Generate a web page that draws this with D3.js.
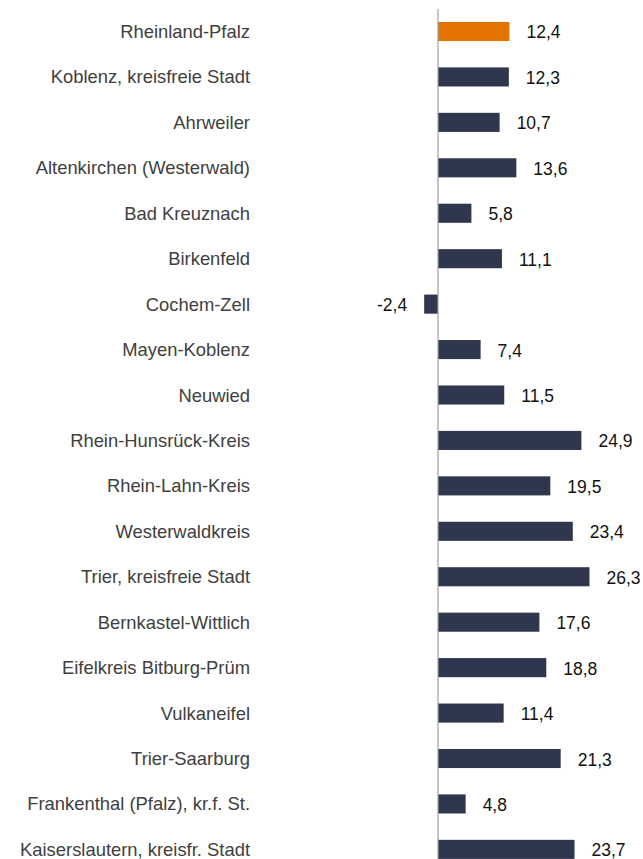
<!DOCTYPE html>
<html>
<head>
<meta charset="utf-8">
<script src="https://cdn.jsdelivr.net/npm/d3@7"></script>
<style>
  html, body { margin: 0; padding: 0; background: #fff; }
  svg { display: block; }
</style>
</head>
<body>
<svg id="chart" width="643" height="859"></svg>
<script>
// Regions of Rhineland-Palatinate (state total first)
const regions = [
  "Rheinland-Pfalz",
  "Koblenz, kreisfreie Stadt",
  "Ahrweiler",
  "Altenkirchen (Westerwald)",
  "Bad Kreuznach",
  "Birkenfeld",
  "Cochem-Zell",
  "Mayen-Koblenz",
  "Neuwied",
  "Rhein-Hunsrück-Kreis",
  "Rhein-Lahn-Kreis",
  "Westerwaldkreis",
  "Trier, kreisfreie Stadt",
  "Bernkastel-Wittlich",
  "Eifelkreis Bitburg-Prüm",
  "Vulkaneifel",
  "Trier-Saarburg",
  "Frankenthal (Pfalz), kr.f. St.",
  "Kaiserslautern, kreisfr. Stadt"
];

const values = [
  12.4, 12.3, 10.7, 13.6, 5.8, 11.1, -2.4, 7.4, 11.5, 24.9,
  19.5, 23.4, 26.3, 17.6, 18.8, 11.4, 21.3, 4.8, 23.7
];

// The state total is highlighted
const highlighted = ["Rheinland-Pfalz"];

const rows = regions.map((name, i) => ({ name, value: values[i] }));

const svg = d3.select("#chart");

const zeroX = 438;
const pxPerUnit = 5.76;
const x = d3.scaleLinear()
  .domain([-5, 30])
  .range([zeroX - 5 * pxPerUnit, zeroX + 30 * pxPerUnit]);

const y = d3.scaleBand()
  .domain(regions)
  .range([8.78, 872.1])
  .paddingInner(0.58)
  .paddingOuter(0.29);

// German decimal comma, plain hyphen for negatives
const fmt = v => d3.format(".1f")(v).replace(".", ",").replace("\u2212", "-");

// Bars
svg.append("g")
  .selectAll("rect")
  .data(rows)
  .join("rect")
  .attr("x", d => x(Math.min(0, d.value)))
  .attr("y", d => y(d.name))
  .attr("width", d => Math.abs(x(d.value) - x(0)))
  .attr("height", y.bandwidth())
  .attr("fill", d => highlighted.includes(d.name) ? "#e37400" : "#2f374f");

// Zero axis line
svg.append("line")
  .attr("x1", x(0)).attr("x2", x(0))
  .attr("y1", 9).attr("y2", 859)
  .attr("stroke", "#a0a0a0")
  .attr("stroke-width", 1.2);

// Category labels
svg.append("g")
  .selectAll("text")
  .data(rows)
  .join("text")
  .attr("x", 250)
  .attr("y", d => y(d.name) + y.bandwidth() / 2 + 6.5)
  .attr("text-anchor", "end")
  .attr("font-family", "Liberation Sans, Arial, sans-serif")
  .attr("font-size", 18.4)
  .attr("fill", "#404040")
  .text(d => d.name);

// Value labels
svg.append("g")
  .selectAll("text")
  .data(rows)
  .join("text")
  .attr("x", d => d.value >= 0 ? x(d.value) + 17 : x(d.value) - 17)
  .attr("y", d => y(d.name) + y.bandwidth() / 2 + 7)
  .attr("text-anchor", d => d.value >= 0 ? "start" : "end")
  .attr("font-family", "Liberation Sans, Arial, sans-serif")
  .attr("font-size", 17.5)
  .attr("fill", "#111")
  .text(d => fmt(d.value));
</script>
</body>
</html>
